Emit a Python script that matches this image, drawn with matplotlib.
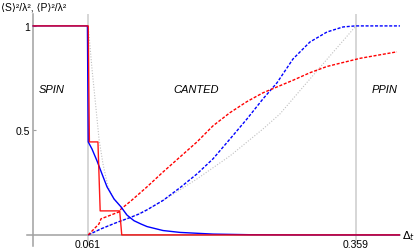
import matplotlib
matplotlib.use("Agg")
import matplotlib.pyplot as plt

plt.rcParams['font.family'] = ['Liberation Sans', 'DejaVu Sans']

# transition points and region labels
x_ticks = [0.061, 0.359]
x_tick_labels = ['0.061', '0.359']
y_ticks = [0.5, 1.0]
y_tick_labels = ['0.5', '1']
regions = ['SPIN', 'CANTED', 'PPIN']
region_x = [0.021, 0.181, 0.391]

# <S>^2 (red, solid) and <P>^2 (blue, solid) - first branch
red_solid_x = [0.0, 0.0612, 0.0625, 0.0720, 0.0745, 0.0962, 0.0985, 0.408]
red_solid_y = [1.0, 1.0, 0.445, 0.445, 0.115, 0.115, 0.0, 0.0]

blue_solid_x = [0.0, 0.0603, 0.0612, 0.0654, 0.0710, 0.0765, 0.0821, 0.0899, 0.0977,
                0.1043, 0.1121, 0.1200, 0.1266, 0.1444, 0.1633, 0.2000, 0.2412, 0.2967, 0.408]
blue_solid_y = [1.0, 1.0, 0.445, 0.411, 0.354, 0.292, 0.230, 0.172, 0.134,
                0.095, 0.068, 0.052, 0.040, 0.021, 0.012, 0.004, 0.001, 0.0, 0.0]

# second branch (dashed)
blue_dash_x = [0.0612, 0.0754, 0.0932, 0.1077, 0.1177, 0.1266, 0.1444, 0.1633, 0.1822,
               0.2000, 0.2189, 0.2378, 0.2556, 0.2712, 0.2890, 0.3078, 0.3268, 0.3446,
               0.3580, 0.408]
blue_dash_y = [0.0, 0.029, 0.060, 0.083, 0.100, 0.120, 0.165, 0.226, 0.292,
               0.364, 0.459, 0.555, 0.651, 0.728, 0.842, 0.923, 0.971, 0.995,
               1.0, 1.0]

red_dash_x = [0.0612, 0.0732, 0.0754, 0.0954, 0.0977, 0.1088, 0.1266, 0.1444, 0.1633,
              0.1822, 0.2000, 0.2189, 0.2378, 0.2556, 0.2712, 0.2890, 0.3078, 0.3268,
              0.3636, 0.4046]
red_dash_y = [0.0, 0.053, 0.077, 0.110, 0.124, 0.163, 0.230, 0.301, 0.373,
              0.445, 0.522, 0.585, 0.638, 0.680, 0.708, 0.740, 0.776, 0.806,
              0.845, 0.876]

# approximations (gray dotted)
gray1_x = [0.0612, 0.0654, 0.0699, 0.0732, 0.0776, 0.0832, 0.0899, 0.0977, 0.1043]
gray1_y = [1.0, 0.794, 0.603, 0.459, 0.340, 0.230, 0.172, 0.134, 0.095]

gray2_x = [0.0612, 0.0754, 0.0932, 0.1077, 0.1266, 0.1444, 0.1557, 0.1822, 0.2189,
           0.2556, 0.2745, 0.3078, 0.3580]
gray2_y = [0.0, 0.029, 0.060, 0.083, 0.120, 0.165, 0.195, 0.268, 0.378,
           0.507, 0.579, 0.746, 0.995]

fig = plt.figure(figsize=(4.15, 2.51), dpi=100)
ax = fig.add_axes([27 / 415, 1 - 247 / 251, 373 / 415, 232 / 251])
ax.set_xlim(-0.0069, 0.408)
ax.set_ylim(-0.053, 1.057)

for s in ['top', 'right']:
    ax.spines[s].set_visible(False)
ax.spines['left'].set_position(('data', 0))
ax.spines['bottom'].set_position(('data', 0))
ax.spines['left'].set_color('#a0a0a0')
ax.spines['bottom'].set_color('#a0a0a0')
ax.spines['left'].set_linewidth(1.1)
ax.spines['bottom'].set_linewidth(1.1)

for xv in x_ticks:
    ax.axvline(xv, color='#d0d0d0', lw=1.2, zorder=1)

ax.plot(gray1_x, gray1_y, color='#c0c0c0', lw=0.8, dashes=(1, 1.5), zorder=2)
ax.plot(gray2_x, gray2_y, color='#c0c0c0', lw=0.8, dashes=(1, 1.5), zorder=2)
ax.plot(blue_dash_x, blue_dash_y, color='#0000ff', lw=1.0, dashes=(2.2, 1.2), zorder=3)
ax.plot(red_dash_x, red_dash_y, color='#ff0000', lw=1.0, dashes=(2.2, 1.2), zorder=3)
ax.plot(blue_solid_x, blue_solid_y, color='#0000ff', lw=1.0, zorder=4)
ax.plot(red_solid_x, red_solid_y, color='#ff0000', lw=1.0, alpha=0.9, zorder=5)

ax.set_xticks(x_ticks)
ax.set_xticklabels(x_tick_labels)
ax.set_yticks(y_ticks)
ax.set_yticklabels(y_tick_labels)
ax.tick_params(axis='x', length=0, pad=3, labelsize=7.5)
ax.tick_params(axis='y', length=2, direction='in', pad=2, labelsize=7.5, color='#a0a0a0')

for name, xv in zip(regions, region_x):
    ax.text(xv, 0.70, name, ha='center', va='center', fontsize=8, style='italic')

ax.text(0.4105, 0.0, r'$\Delta_t$', ha='left', va='center', fontsize=8)
fig.text(0.002, 1 - 8 / 251, '⟨S⟩²/λ², ⟨P⟩²/λ²', ha='left', va='center', fontsize=7.5)

fig.savefig('out.png', dpi=100)
